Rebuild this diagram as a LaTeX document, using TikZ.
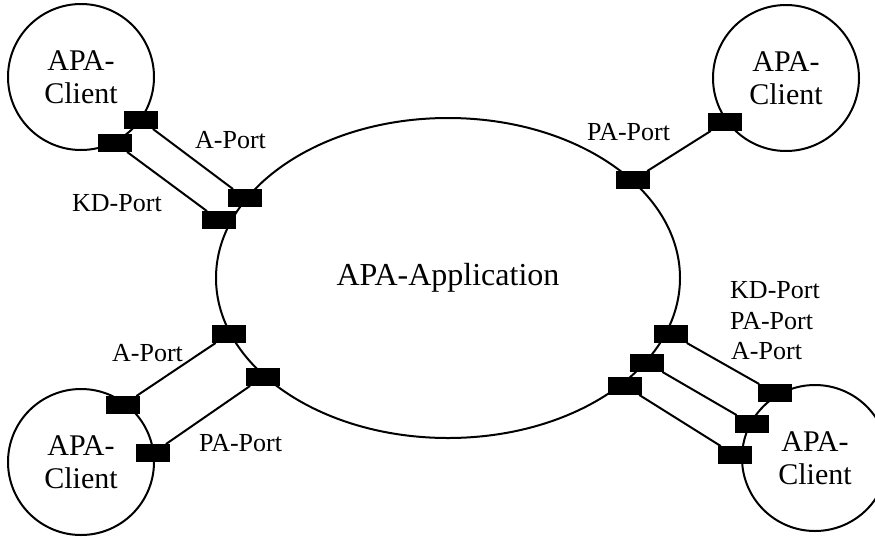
\documentclass[tikz,border=0pt]{standalone}
\usepackage{fontspec}
\setmainfont{Liberation Serif}
\usetikzlibrary{shapes.geometric}
\tikzset{
  port/.style={fill=black, draw=none, minimum width=34pt, minimum height=17.5pt, inner sep=0pt},
  client/.style={circle, draw, line width=2pt, minimum size=146pt, inner sep=0pt, align=center, font=\fontsize{30}{33}\selectfont},
  app/.style={ellipse, draw, line width=2pt, minimum width=464pt, minimum height=320pt, inner sep=0pt, font=\fontsize{32}{36}\selectfont},
  link/.style={line width=2pt},
  lbl/.style={anchor=base west, inner sep=0pt, font=\fontsize{26}{30}\selectfont}
}
\begin{document}
\begin{tikzpicture}[x=1pt, y=-1pt]
\useasboundingbox (0,0) rectangle (875,536);
% main ellipse
\node[app] (app) at (448,278) {APA-Application};
% clients
\node[client] (ctl) at (81,77) {APA-\\Client};
\node[client] (ctr) at (786,78) {APA-\\Client};
\node[client] (cbl) at (81,462) {APA-\\Client};
\node[client] (cbr) at (815,458) {APA-\\Client};
% ports top-left
\node[port] (tlA1) at (141,120) {};
\node[port] (tlK1) at (115,143) {};
\node[port] (tlA2) at (245,198) {};
\node[port] (tlK2) at (219,220) {};
% ports top-right
\node[port] (trP1) at (725,122) {};
\node[port] (trP2) at (633,180) {};
% ports bottom-left
\node[port] (blA2) at (229,334) {};
\node[port] (blP2) at (263,377) {};
\node[port] (blA1) at (123,405) {};
\node[port] (blP1) at (153,453) {};
% ports bottom-right
\node[port] (brK2) at (671,334) {};
\node[port] (brP2) at (647,363) {};
\node[port] (brA2) at (625,386) {};
\node[port] (brK1) at (775,393) {};
\node[port] (brP1) at (752,424) {};
\node[port] (brA1) at (735,455) {};
% links
\draw[link] (tlA1) -- (tlA2);
\draw[link] (tlK1) -- (tlK2);
\draw[link] (trP1) -- (trP2);
\draw[link] (blA1) -- (blA2);
\draw[link] (blP1) -- (blP2);
\draw[link] (brK2) -- (brK1);
\draw[link] (brP2) -- (brP1);
\draw[link] (brA2) -- (brA1);
% labels
\node[lbl] (l1) at (195,148) {A-Port};
\node[lbl] (l2) at (72,211) {KD-Port};
\node[lbl] (l3) at (587,140) {PA-Port};
\node[lbl] (l4) at (112,361) {A-Port};
\node[lbl] (l5) at (199,451) {PA-Port};
\node[lbl] (l6) at (730,298) {KD-Port};
\node[lbl] (l7) at (730,329) {PA-Port};
\node[lbl] (l8) at (731,359) {A-Port};
\end{tikzpicture}
\end{document}
